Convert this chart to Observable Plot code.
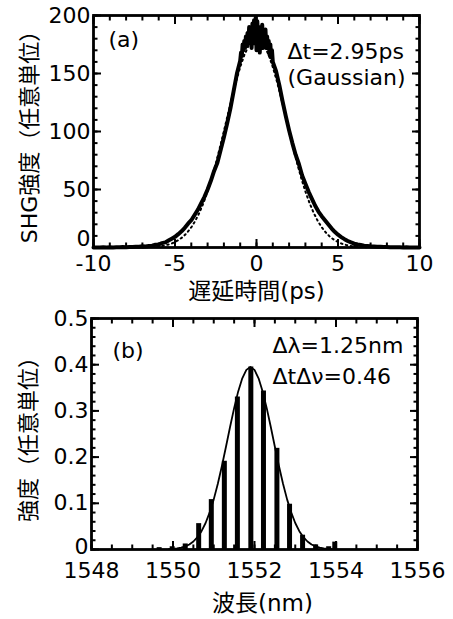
<!DOCTYPE html>
<html><head><meta charset="utf-8">
<script src="https://cdn.jsdelivr.net/npm/d3@7"></script>
<script src="https://cdn.jsdelivr.net/npm/@observablehq/plot@0.6"></script>
<style>
body{margin:0;background:#fff;}
#chart{width:453px;height:619px;overflow:hidden;}
#chart svg{display:block;}
</style></head><body><div id="chart"></div>
<script>
// ---------- Panel (a): SHG autocorrelation ----------
const delayPs = [
-10,-9.8,-9.6,-9.4,-9.2,-9,-8.8,-8.6,-8.4,-8.2,-8,-7.8,-7.6,-7.4,-7.2,-7,-6.8,-6.6,-6.4,-6.2,-6,-5.8,-5.6,-5.4,-5.2,-5,-4.8,-4.6,-4.4,-4.2,-4,-3.8,-3.6,-3.4,-3.2,-3,-2.8,-2.6,-2.4,-2.2,-2,-1.8,-1.6,-1.4,-1.2,
-1,-0.95,-0.9,-0.85,-0.8,-0.75,-0.7,-0.65,-0.6,-0.55,-0.5,-0.45,-0.4,-0.35,-0.3,-0.25,-0.2,-0.15,-0.1,-0.05,0,0.05,0.1,0.15,0.2,0.25,0.3,0.35,0.4,0.45,0.5,0.55,0.6,0.65,0.7,0.75,0.8,0.85,0.9,0.95,1,
1.2,1.4,1.6,1.8,2,2.2,2.4,2.6,2.8,3,3.2,3.4,3.6,3.8,4,4.2,4.4,4.6,4.8,5,5.2,5.4,5.6,5.8,6,6.2,6.4,6.6,6.8,7,7.2,7.4,7.6,7.8,8,8.2,8.4,8.6,8.8,9,9.2,9.4,9.6,9.8,10];
const shgSignal = [
0,0.1,0,0.2,0.1,0.2,0.1,0.3,0.2,0.4,0.3,0.5,0.4,0.7,0.6,1.0,0.9,1.4,1.6,2.4,2.6,3.8,4.4,6.0,7.6,9.2,11.5,14,17,20.5,23.5,28,32.5,38,43.5,50,57.5,66,73,84,95,107,120,135,150,
161,168,165,175,170,178,172,182,174,185,176,190,178,188,172,193,176,196,180,198,170,195,176,190,168,186,174,192,172,185,176,188,172,182,174,178,166,175,164,170,160,
152,140,126,113,101,90,80,72,62,55,48,42,36,31,27,23.5,20,16.5,13.5,11,9,7.2,5.6,4.4,3.4,2.6,2.2,1.6,1.3,1.0,0.8,0.6,0.6,0.4,0.4,0.3,0.3,0.2,0.2,0.1,0.2,0.1,0.1,0,0];
const fitDelayPs = [-7,-6.5,-6,-5.75,-5.5,-5.25,-5,-4.75,-4.5,-4.25,-4,-3.75,-3.5,-3.25,-3,-2.75,-2.5,-2.25,-2,-1.75,-1.5,-1.25,-1,-0.75,-0.5,-0.25,0,
0.25,0.5,0.75,1,1.25,1.5,1.75,2,2.25,2.5,2.75,3,3.25,3.5,3.75,4,4.25,4.5,4.75,5,5.25,5.5,5.75,6,6.5,7];
const fitSignal = [0.1,0.4,0.9,1.4,2.2,3.2,4.7,6.7,9.3,12.9,17.4,23.1,30.1,38.5,48.3,59.6,72.2,85.9,100.3,115.1,129.6,143.3,155.5,165.8,173.5,178.4,180,
178.4,173.5,165.8,155.5,143.3,129.6,115.1,100.3,85.9,72.2,59.6,48.3,38.5,30.1,23.1,17.4,12.9,9.3,6.7,4.7,3.2,2.2,1.4,0.9,0.4,0.1];
const xTicksA = [-10,-5,0,5,10];
const yTicksA = [0,50,100,150,200];
const xTitleA = "遅延時間(ps)";
const yTitleA = "SHG強度（任意単位）";
const tagA = "(a)";
const notesA = ["Δt=2.95ps", "(Gaussian)"];

// ---------- Panel (b): optical spectrum ----------
const modeWavelength = [1549.66,1549.98,1550.30,1550.63,1550.94,1551.26,1551.58,1551.91,1552.22,1552.55,1552.86,1553.18,1553.50,1553.82,1553.97];
const modeIntensity  = [0.004,0.006,0.012,0.056,0.108,0.191,0.330,0.395,0.343,0.219,0.098,0.031,0.010,0.006,0.016];
const envWavelength = [1549.9,1550.0,1550.1,1550.2,1550.3,1550.4,1550.5,1550.6,1550.7,1550.8,1550.9,1551.0,1551.1,1551.2,1551.3,1551.4,1551.5,1551.6,1551.7,1551.8,1551.9,
1552.0,1552.1,1552.2,1552.3,1552.4,1552.5,1552.6,1552.7,1552.8,1552.9,1553.0,1553.1,1553.2,1553.3,1553.4,1553.5,1553.6,1553.7,1553.8,1553.9];
const envIntensity = [0.0007,0.0013,0.0023,0.0039,0.0067,0.0109,0.0173,0.0267,0.0397,0.0574,0.0802,0.1085,0.1423,0.1808,0.2225,0.2651,0.306,0.3422,0.3706,0.3888,0.395,
0.3888,0.3706,0.3422,0.306,0.2651,0.2225,0.1808,0.1423,0.1085,0.0802,0.0574,0.0397,0.0267,0.0173,0.0109,0.0067,0.0039,0.0023,0.0013,0.0007];
const xTicksB = [1548,1550,1552,1554,1556];
const yTicksB = [0,0.1,0.2,0.3,0.4,0.5];
const xTitleB = "波長(nm)";
const yTitleB = "強度（任意単位）";
const tagB = "(b)";
const notesB = ["Δλ=1.25nm", "ΔtΔν=0.46"];

const FONT = '"DejaVu Sans","Noto Sans CJK JP",sans-serif';

function frameTicks(xMajor, xMinor, yMajor, yMinor) {
  const out = [];
  for (const a of ["bottom","top"]) {
    out.push(Plot.axisX(xMinor, {anchor:a, tickSize:-4.5, strokeWidth:2, fill:"none", label:null}));
    out.push(Plot.axisX(xMajor, {anchor:a, tickSize:-8, strokeWidth:2, fill:"none", label:null}));
  }
  for (const a of ["left","right"]) {
    out.push(Plot.axisY(yMinor, {anchor:a, tickSize:-4.5, strokeWidth:2, fill:"none", label:null}));
    out.push(Plot.axisY(yMajor, {anchor:a, tickSize:-8, strokeWidth:2, fill:"none", label:null}));
  }
  return out;
}
const fmt = d => String(d);

const tableA = delayPs.map((t,i) => ({t, v: shgSignal[i]}));
const fitA = fitDelayPs.map((t,i) => ({t, v: fitSignal[i]}));

const plotA = Plot.plot({
  width: 453, height: 306,
  marginLeft: 93, marginRight: 34, marginTop: 15, marginBottom: 59,
  style: {fontFamily: FONT, fontSize: "22px", color: "black", background: "white", overflow: "visible"},
  x: {domain: [-10, 10]},
  y: {domain: [0, 200]},
  marks: [
    Plot.line(fitA, {x:"t", y:"v", stroke:"black", strokeWidth:2, strokeDasharray:"1.5,3.5", strokeLinecap:"round"}),
    Plot.line(tableA, {x:"t", y:"v", stroke:"black", strokeWidth:4, strokeLinejoin:"round"}),
    ...frameTicks(xTicksA, d3.range(-10, 10.01, 1), yTicksA, d3.range(0, 200.01, 10)),
    Plot.axisX(xTicksA, {anchor:"bottom", tickSize:0, tickPadding:8, tickFormat: fmt, label:null}),
    Plot.axisY(yTicksA.filter(d => d !== 0), {anchor:"left", tickSize:0, tickPadding:3, tickFormat: fmt, label:null}),
    Plot.axisY(yTicksA.filter(d => d === 0), {anchor:"left", tickSize:0, tickPadding:3, tickFormat: fmt, label:null, dy:-9}),
    Plot.frame({stroke:"black", strokeWidth:2.8}),
    Plot.text([tagA], {frameAnchor:"top-left", dx:15, dy:24, textAnchor:"start", lineAnchor:"middle", fontSize:22}),
    Plot.text([notesA[0]], {frameAnchor:"top-left", dx:194, dy:36, textAnchor:"start", lineAnchor:"middle", fontSize:22}),
    Plot.text([notesA[1]], {frameAnchor:"top-left", dx:194, dy:62, textAnchor:"start", lineAnchor:"middle", fontSize:22}),
    Plot.text([xTitleA], {frameAnchor:"bottom", dy:44, lineAnchor:"middle", fontSize:23}),
    Plot.text([yTitleA], {frameAnchor:"left", dx:-64, rotate:-90, textAnchor:"middle", lineAnchor:"middle", fontSize:22})
  ]
});

const modesB = modeWavelength.map((w,i) => ({w, v: modeIntensity[i]}));
const envB = envWavelength.map((w,i) => ({w, v: envIntensity[i]}));

const plotB = Plot.plot({
  width: 453, height: 313,
  marginLeft: 91, marginRight: 36, marginTop: 12, marginBottom: 70,
  style: {fontFamily: FONT, fontSize: "22px", color: "black", background: "white", overflow: "visible"},
  x: {domain: [1548, 1556]},
  y: {domain: [0, 0.5]},
  marks: [
    Plot.ruleX(modesB, {x:"w", y1:0, y2:"v", stroke:"black", strokeWidth:5}),
    Plot.line(envB, {x:"w", y:"v", stroke:"black", strokeWidth:1.8}),
    ...frameTicks(xTicksB, d3.range(1548, 1556.01, 0.5), yTicksB, d3.range(0, 0.5001, 0.02)),
    Plot.axisX(xTicksB, {anchor:"bottom", tickSize:0, tickPadding:13, tickFormat: fmt, label:null}),
    Plot.axisY(yTicksB.filter(d => d !== 0), {anchor:"left", tickSize:0, tickPadding:3, tickFormat: fmt, label:null}),
    Plot.axisY(yTicksB.filter(d => d === 0), {anchor:"left", tickSize:0, tickPadding:3, tickFormat: fmt, label:null, dy:-3}),
    Plot.frame({stroke:"black", strokeWidth:2.8}),
    Plot.text([tagB], {frameAnchor:"top-left", dx:21, dy:32, textAnchor:"start", lineAnchor:"middle", fontSize:22}),
    Plot.text([notesB[0]], {frameAnchor:"top-left", dx:181, dy:27, textAnchor:"start", lineAnchor:"middle", fontSize:22}),
    Plot.text([notesB[1]], {frameAnchor:"top-left", dx:181, dy:58, textAnchor:"start", lineAnchor:"middle", fontSize:22}),
    Plot.text([xTitleB], {frameAnchor:"bottom", dx:8, dy:54, lineAnchor:"middle", fontSize:23}),
    Plot.text([yTitleB], {frameAnchor:"left", dx:-63, rotate:-90, textAnchor:"middle", lineAnchor:"middle", fontSize:22})
  ]
});

const chart = document.getElementById("chart");
chart.appendChild(plotA);
chart.appendChild(plotB);
</script>
</body></html>
